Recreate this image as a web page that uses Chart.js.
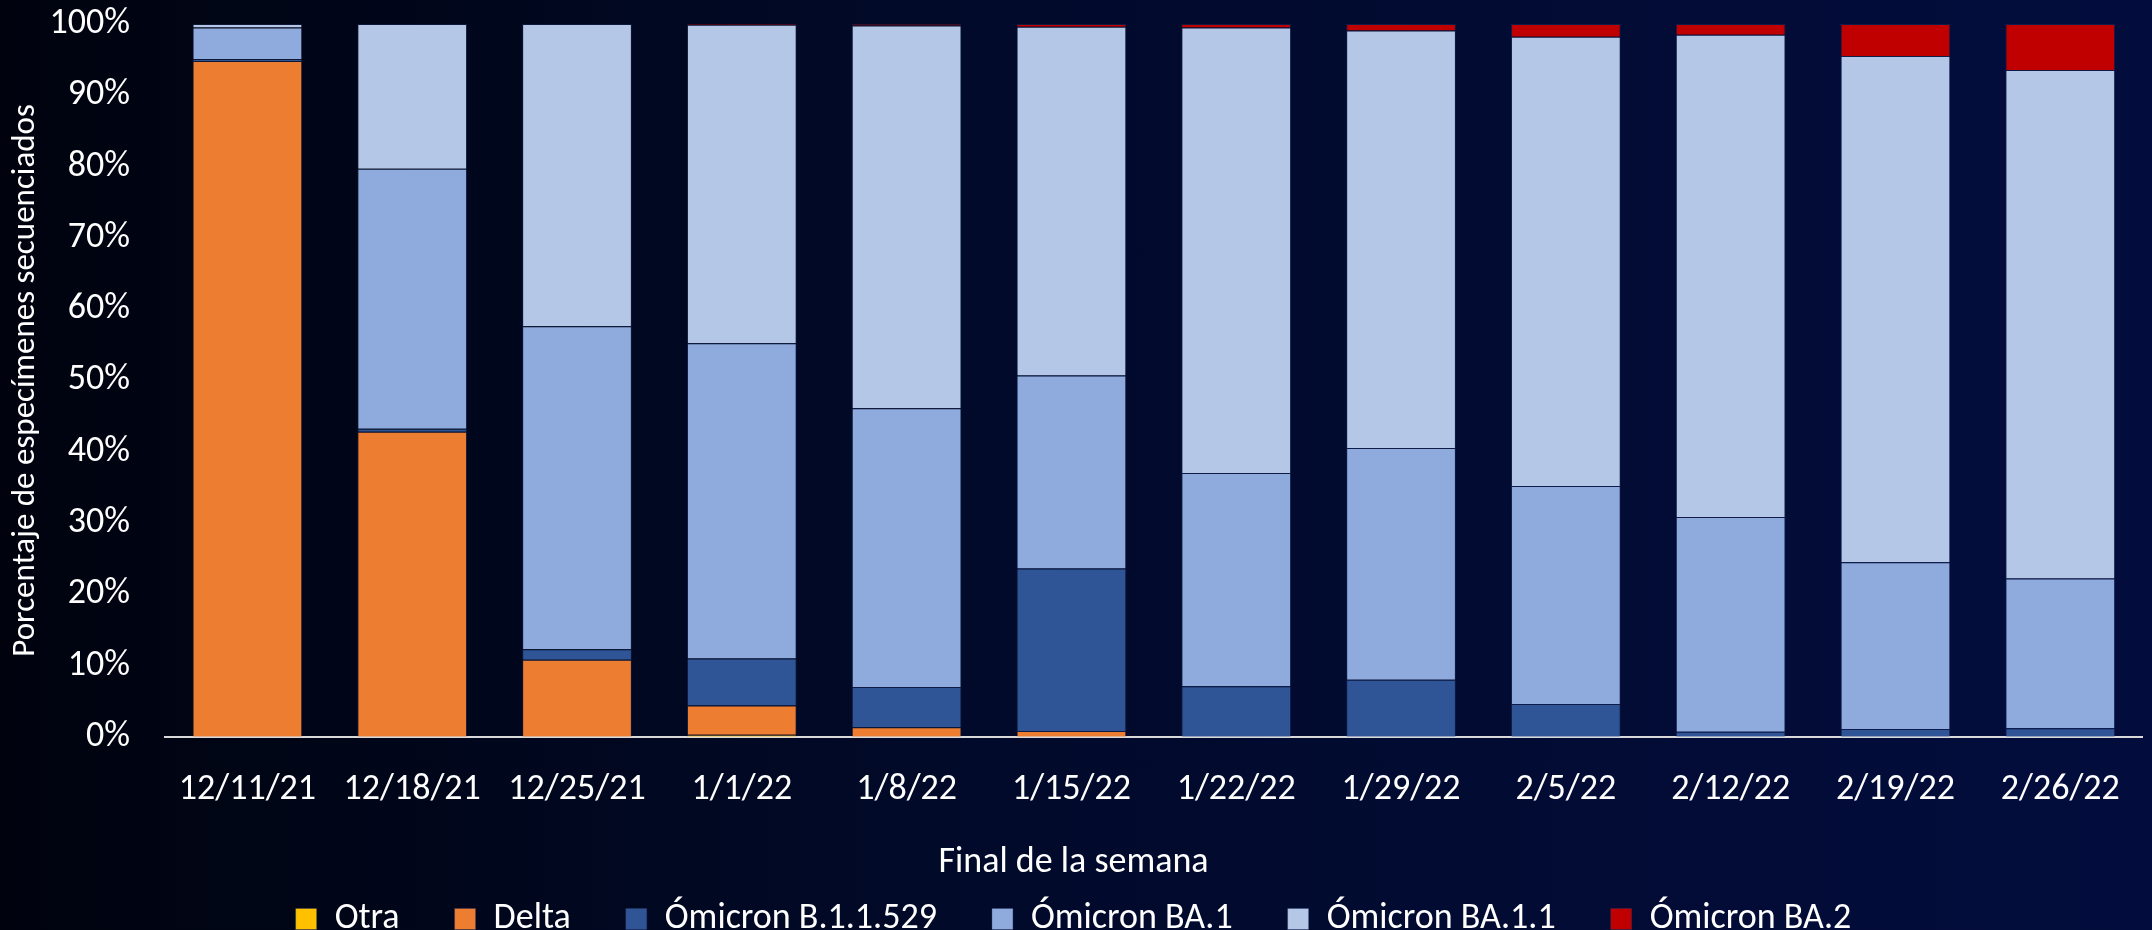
<!DOCTYPE html>
<html>
<head>
<meta charset="utf-8">
<script src="https://cdn.jsdelivr.net/npm/chart.js@4/dist/chart.umd.min.js"></script>
<style>
  html, body { margin: 0; padding: 0; }
  body { width: 2152px; height: 930px; overflow: hidden;
         background: linear-gradient(to right, #00030e 0%, #010a2a 45%, #030d3d 100%); }
  #wrap { width: 2152px; height: 930px; }
</style>
</head>
<body>
<div id="wrap"><canvas id="c" width="2152" height="930"></canvas></div>
<script>
const categories = ['12/11/21','12/18/21','12/25/21','1/1/22','1/8/22','1/15/22','1/22/22','1/29/22','2/5/22','2/12/22','2/19/22','2/26/22'];
const otra   = [0, 0, 0, 0.3, 0, 0, 0, 0, 0, 0, 0, 0];
const delta  = [94.8, 42.8, 10.8, 4.1, 1.35, 0.8, 0, 0, 0, 0, 0, 0];
const b11529 = [0.3, 0.4, 1.5, 6.6, 5.65, 22.8, 7.1, 8.0, 4.6, 0.7, 1.1, 1.2];
const ba1    = [4.4, 36.5, 45.3, 44.2, 39.1, 27.1, 29.9, 32.5, 30.6, 30.15, 23.4, 21.0];
const ba11   = [0.5, 20.3, 42.4, 44.7, 53.7, 48.9, 62.5, 58.6, 63.0, 67.65, 71.0, 71.35];
const ba2    = [0, 0, 0, 0.1, 0.2, 0.4, 0.5, 0.9, 1.8, 1.5, 4.5, 6.45];
const yTicks = [0, 10, 20, 30, 40, 50, 60, 70, 80, 90, 100];
const seriesNames = ['Otra', 'Delta', 'Ómicron B.1.1.529', 'Ómicron BA.1', 'Ómicron BA.1.1', 'Ómicron BA.2'];
const xTitle = 'Final de la semana';
const yTitle = 'Porcentaje de especímenes secuenciados';

const FONT = 'Carlito, "Liberation Sans Narrow", "DejaVu Sans Condensed", "Open Sans", sans-serif';
const colors = ['#FFC000', '#ED7D31', '#2F5597', '#8FAADC', '#B4C7E7', '#C00000'];
const seriesData = [otra, delta, b11529, ba1, ba11, ba2];

const datasets = seriesData.map((d, i) => ({
  label: seriesNames[i],
  data: d,
  backgroundColor: colors[i],
  borderColor: 'rgba(40,60,110,0.35)',
  borderWidth: 1,
  barPercentage: 0.666,
  categoryPercentage: 1.0
}));

Chart.defaults.font.family = FONT;
Chart.defaults.color = '#FFFFFF';

new Chart(document.getElementById('c'), {
  type: 'bar',
  data: { labels: categories, datasets },
  options: {
    responsive: false,
    animation: false,
    devicePixelRatio: 1,
    layout: { padding: { top: 24, right: 5, bottom: -3, left: 0 } },
    plugins: {
      tooltip: { enabled: false },
      title: {
        display: true,
        text: xTitle,
        position: 'bottom',
        weight: 500,
        color: '#FFFFFF',
        font: { size: 36, weight: 'normal', family: FONT },
        padding: { top: 15, bottom: -39 }
      },
      legend: {
        display: true,
        position: 'bottom',
        maxHeight: 87,
        labels: {
          color: '#FFFFFF',
          font: { size: 36, family: FONT },
          boxWidth: 21,
          boxHeight: 21,
          padding: 55
        }
      }
    },
    scales: {
      x: {
        stacked: true,
        afterFit: (s) => { s.height = 90; },
        grid: { display: false, drawTicks: false },
        border: { display: true, color: '#D9D9D9', width: 2 },
        ticks: { color: '#FFFFFF', font: { size: 36 }, padding: 32, maxRotation: 0, autoSkip: false }
      },
      y: {
        stacked: true,
        min: 0, max: 100,
        afterFit: (s) => { s.width = 165; s.paddingTop = 0; s.paddingBottom = 0; },
        afterBuildTicks: (s) => { s.ticks = yTicks.map(v => ({ value: v })); },
        grid: { display: false, drawTicks: false },
        border: { display: false },
        ticks: { color: '#FFFFFF', font: { size: 36 }, padding: 35, callback: (v) => v + '%' },
        title: {
          display: true, text: yTitle, color: '#FFFFFF',
          font: { size: 33, family: FONT }, padding: { top: 6, bottom: 0 }
        }
      }
    }
  }
});
</script>
</body>
</html>
